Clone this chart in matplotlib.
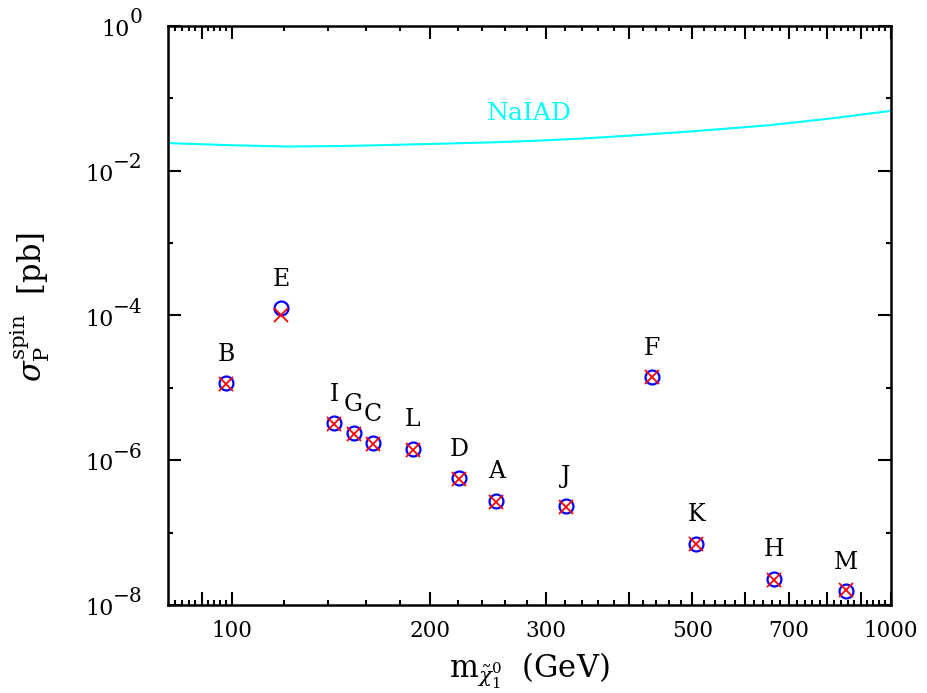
import matplotlib
matplotlib.use("Agg")
import matplotlib.pyplot as plt
import numpy as np
from matplotlib.ticker import FixedLocator, NullFormatter

plt.rcParams["font.family"] = "DejaVu Serif"
plt.rcParams["mathtext.fontset"] = "dejavuserif"

# benchmark points: neutralino mass (GeV) and spin-dependent proton cross section (pb)
point_labels = ["B", "E", "I", "G", "C", "L", "D", "A", "J", "F", "K", "H", "M"]
mass = [98.0, 118.9, 142.9, 153.0, 163.8, 188.0, 221.1, 252.1, 321.3, 433.6, 506.8, 664.5, 854.9]
sigma_circle = [1.16e-5, 1.26e-4, 3.24e-6, 2.36e-6, 1.71e-6, 1.43e-6, 5.63e-7, 2.73e-7,
                2.33e-7, 1.40e-5, 6.97e-8, 2.31e-8, 1.55e-8]
sigma_cross = [1.13e-5, 1.02e-4, 3.20e-6, 2.30e-6, 1.66e-6, 1.40e-6, 5.45e-7, 2.68e-7,
               2.27e-7, 1.40e-5, 7.00e-8, 2.20e-8, 1.60e-8]

# NaIAD exclusion curve
naiad_mass = [80.0, 100.0, 121.3, 150.0, 176.7, 210.0, 245.6, 290.0, 341.0, 400.0,
              472.5, 560.0, 656.0, 800.0, 1000.0]
naiad_sigma = [0.0241, 0.0225, 0.0216, 0.0220, 0.0228, 0.0237, 0.0246, 0.0260, 0.0279,
               0.0305, 0.0338, 0.0380, 0.0427, 0.0520, 0.0672]

x_tick_vals = [100, 200, 300, 500, 700, 1000]
y_decades = [0, -2, -4, -6, -8]

fig = plt.figure(figsize=(9.28, 6.93), dpi=100)
ax = fig.add_axes([0.181, 0.127, 0.779, 0.8355])

ax.plot(naiad_mass, naiad_sigma, color="#00FFFF", lw=1.5)
ax.text(283, 0.061, "NaIAD", color="#00FFFF", fontsize=18, ha="center", va="center")

ax.plot(mass, sigma_circle, "o", ms=10, mfc="none", mec="#0000FF", mew=1.6, ls="none")
ax.plot(mass, sigma_cross, "x", ms=9.5, color="#FF0000", mew=1.3, ls="none")

for lab, m, s in zip(point_labels, mass, sigma_circle):
    ax.annotate(lab, xy=(m, s), xytext=(0, 21), textcoords="offset points",
                ha="center", va="center", fontsize=17)

ax.set_xscale("log")
ax.set_yscale("log")
ax.set_xlim(80, 1000)
ax.set_ylim(1e-8, 1)

# x ticks: tall at 90 and every hundred, short every 2 below 100 and every 20 above
major_x = [90] + list(range(100, 1001, 100))
minor_x = [v for v in range(82, 100, 2) if v != 90] + \
          [v for v in range(120, 1000, 20) if v % 100 != 0]
ax.xaxis.set_major_locator(FixedLocator(major_x))
ax.xaxis.set_minor_locator(FixedLocator(minor_x))
ax.set_xticklabels([str(v) if v in x_tick_vals else "" for v in major_x])
ax.xaxis.set_minor_formatter(NullFormatter())

ax.yaxis.set_major_locator(FixedLocator([10.0 ** d for d in y_decades]))
ax.yaxis.set_minor_locator(FixedLocator([10.0 ** d for d in range(-7, 0, 2)]))
ax.yaxis.set_major_formatter(NullFormatter())
ax.yaxis.set_minor_formatter(NullFormatter())

ax.tick_params(which="both", direction="in", top=True, right=True, width=1.5)
ax.tick_params(which="major", length=9.5, labelsize=15.5, pad=11)
ax.tick_params(which="minor", length=3.6)
for sp in ax.spines.values():
    sp.set_linewidth(1.8)

# y tick labels drawn as 10 with a large exponent
for d in y_decades:
    exp_txt = "0" if d == 0 else "\u2212" + str(-d)
    e = ax.annotate(exp_txt, xy=(0, 10.0 ** d), xycoords=ax.get_yaxis_transform(),
                    xytext=(-18, -1), textcoords="offset points",
                    ha="right", va="bottom", fontsize=14.5)
    ax.annotate("10", xy=(0, 0), xycoords=e, xytext=(0, -2), textcoords="offset points",
                ha="right", va="center", fontsize=16)

ax.set_xlabel(r"$\mathrm{m}_{\tilde{\chi}^{0}_{1}}$  (GeV)", fontsize=22, labelpad=6)
ax.set_ylabel(r"$\sigma_{\mathrm{P}}^{\mathrm{spin}}$  [pb]", fontsize=22)
ax.yaxis.set_label_coords(-0.16, 0.515)

fig.savefig("out.png", dpi=100)
